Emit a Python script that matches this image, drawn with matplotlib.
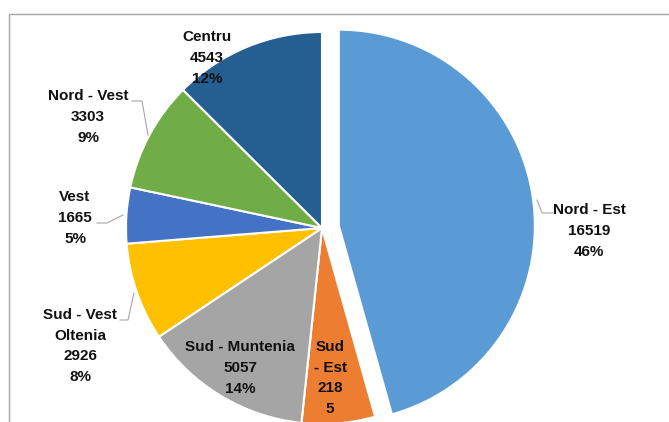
import matplotlib
matplotlib.use("Agg")
import matplotlib.pyplot as plt
import numpy as np
from matplotlib.patches import Rectangle

# data
regions = ["Nord - Est", "Sud\n- Est", "Sud - Muntenia", "Sud - Vest\nOltenia",
           "Vest", "Nord - Vest", "Centru"]
values = [16519, 2185, 5057, 2926, 1665, 3303, 4543]
value_labels = ["16519", "218\n5", "5057", "2926", "1665", "3303", "4543"]
pct_labels = ["46%", "", "14%", "8%", "5%", "9%", "12%"]
colors = ["#5B9BD5", "#ED7D31", "#A5A5A5", "#FFC000", "#4472C4", "#70AD47", "#255E91"]

W, H = 669, 422
CX, CY, R = 322, H - 228, 196

# label block centres (pixels, from top-left) and leader lines
label_pos = [(589, 231), (330, 378), (240, 368), (80, 346), (75, 218), (88, 117), (207, 58)]
leaders = {
    0: [(553, 213), (542, 213), (537, 200)],
    3: [(120, 320), (128, 320), (134, 293)],
    4: [(97, 223), (107, 223), (123, 215)],
    5: [(132, 101), (142, 101), (148, 135)],
}

fig = plt.figure(figsize=(W / 100, H / 100), dpi=100)
ax = fig.add_axes([0, 0, 1, 1])

# matplotlib's explode offset is in data units here (pixels)
explode = [17, 0, 0, 0, 0, 0, 0]
ax.pie(values, colors=colors, startangle=90, counterclock=False, explode=explode,
       center=(CX, CY), radius=R, frame=True,
       wedgeprops=dict(edgecolor="white", linewidth=1.5))
ax.set_xlim(0, W)
ax.set_ylim(0, H)
ax.set_aspect("equal")
ax.axis("off")

for i, (x, y) in enumerate(label_pos):
    parts = [regions[i], value_labels[i]]
    if pct_labels[i]:
        parts.append(pct_labels[i])
    ax.text(x, H - y, "\n".join(parts), ha="center", va="center", fontsize=11,
            fontweight="bold", family="Liberation Sans", color="#111111",
            linespacing=1.62)

for pts in leaders.values():
    xs = [p[0] for p in pts]
    ys = [H - p[1] for p in pts]
    ax.plot(xs, ys, color="#A6A6A6", linewidth=0.8)

# chart area border
ax.add_patch(Rectangle((8.5, -10), W + 20, H - 13.5 + 10, fill=False,
                       edgecolor="#A6A6A6", linewidth=1.0, clip_on=False))

fig.savefig("out.png", dpi=100)
